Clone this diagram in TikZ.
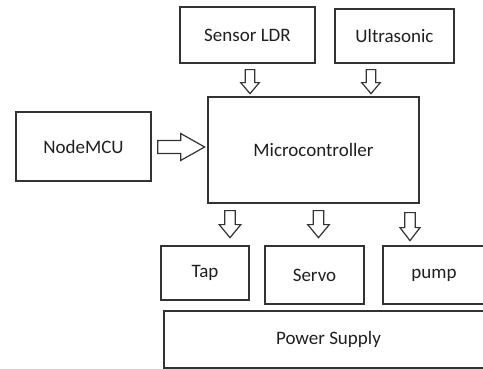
\documentclass[tikz,border=0pt]{standalone}
\usepackage{fontspec}
\setmainfont{Carlito}
\usetikzlibrary{calc}
\tikzset{
  box/.style={draw=black!80, line width=1.3pt, rectangle, inner sep=0pt,
    font=\fontsize{19}{22}\selectfont, text=black!88},
  arr/.style={draw=black!80, line width=1.2pt, fill=white, line join=miter},
}
% #1 start point, #2 direction angle, #3 length, #4 head length, #5 shaft half width, #6 head half width
\newcommand\hollowarrow[6]{%
  \draw[arr, shift={#1}, rotate=#2] (0,-#5) -- (#3-#4,-#5) -- (#3-#4,-#6) -- (#3,0)
    -- (#3-#4,#6) -- (#3-#4,#5) -- (0,#5) -- cycle;}
\begin{document}
\begin{tikzpicture}[x=1pt,y=1pt]
\useasboundingbox (0,0) rectangle (483,369);
\clip (0,0) rectangle (483,369);
\node[box, minimum width=135, minimum height=56] (ldr) at (247.5,334) {Sensor LDR};
\node[box, minimum width=119, minimum height=54] (ultra) at (394.5,333) {Ultrasonic};
\node[box, minimum width=211, minimum height=106] (mcu) at (313.5,219) {Microcontroller};
\node[box, minimum width=135, minimum height=69] (node) at (83.5,222.5) {NodeMCU};
\node[box, minimum width=88, minimum height=54] (tap) at (205,96) {Tap};
\node[box, minimum width=99, minimum height=58] (servo) at (314.5,94) {Servo};
\node[box, minimum width=102, minimum height=58] (pump) at (434,94) {pump};
\node[box, minimum width=329, minimum height=57] (power) at (328.5,29.5) {Power Supply};
% block arrows between the boxes
\coordinate (a1) at ($(ldr.south)+(2.5,-6)$);
\coordinate (a2) at ($(ultra.south)+(-23.5,-6)$);
\coordinate (a3) at ($(mcu.south)+(-83.5,-7)$);
\coordinate (a4) at ($(mcu.south)+(5,-7)$);
\coordinate (a5) at ($(mcu.south)+(96.5,-9)$);
\coordinate (a6) at ($(node.east)+(6,-0.5)$);
\hollowarrow{(a1)}{-90}{24}{11}{4.7}{9.3}
\hollowarrow{(a2)}{-90}{24}{11}{4.7}{9.3}
\hollowarrow{(a3)}{-90}{27}{13}{5.3}{10.8}
\hollowarrow{(a4)}{-90}{27}{13}{5.3}{10.8}
\hollowarrow{(a5)}{-90}{28}{13}{5.3}{10}
\hollowarrow{(a6)}{0}{47}{24}{6.5}{13.5}
\end{tikzpicture}
\end{document}
